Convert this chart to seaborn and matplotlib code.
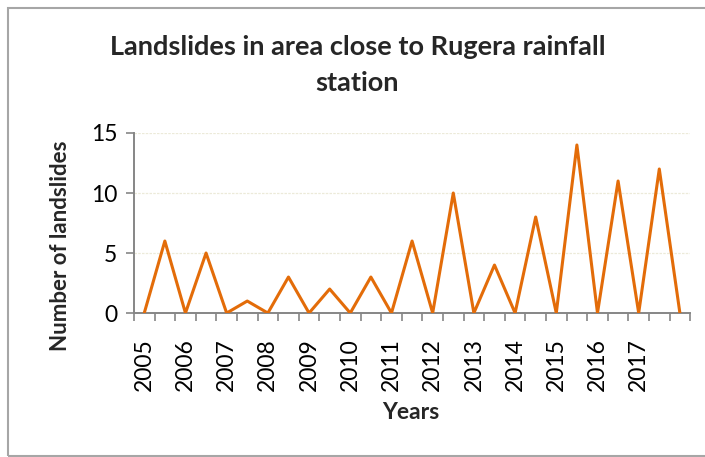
import numpy as np
import pandas as pd
import matplotlib
matplotlib.use("Agg")
import matplotlib.pyplot as plt
import seaborn as sns
from matplotlib.patches import Rectangle

# Half-year categories; only the first half of each year carries a label
categories = ["2005", "", "2006", "", "2007", "", "2008", "", "2009", "",
              "2010", "", "2011", "", "2012", "", "2013", "", "2014", "",
              "2015", "", "2016", "", "2017", "", ""]
landslides = [0, 6, 0, 5, 0, 1, 0, 3, 0, 2, 0, 3, 0, 6, 0, 10,
              0, 4, 0, 8, 0, 14, 0, 11, 0, 12, 0]
y_ticks = [0, 5, 10, 15]

df = pd.DataFrame({"pos": np.arange(len(categories)),
                   "label": categories,
                   "count": landslides})

sns.set_theme(style="white")
plt.rcParams["font.family"] = ["Lato", "DejaVu Sans"]

fig = plt.figure(figsize=(7.05, 4.57), dpi=100)
ax = fig.add_axes([0.190, 0.315, 0.789, 0.394])

sns.lineplot(data=df, x="pos", y="count", ax=ax, color="#E36C09",
             linewidth=2.2, zorder=3)

ax.set_xlim(-0.5, len(categories) - 0.5)
ax.set_ylim(0, 15)

# Category labels centred on points, tick marks on category boundaries
ax.set_xticks(df["pos"])
ax.set_xticklabels(categories, rotation=90, fontsize=16.5, color="black")
ax.set_xticks(np.arange(-0.5, len(categories)), minor=True)
ax.tick_params(axis="x", which="major", length=0, pad=18)
ax.tick_params(axis="x", which="minor", length=6, width=1.2,
               color="#868686", direction="out", bottom=True)

ax.set_yticks(y_ticks)
ax.set_yticklabels([str(v) for v in y_ticks], fontsize=16.5, color="black")
ax.tick_params(axis="y", length=6, width=1.2, color="#868686",
               direction="out", left=True, pad=6)

ax.grid(axis="y", color="#ECEAD9", linestyle=(0, (2, 1)), linewidth=0.9)
ax.set_axisbelow(True)

for side in ("top", "right"):
    ax.spines[side].set_visible(False)
for side in ("left", "bottom"):
    ax.spines[side].set_color("#868686")
    ax.spines[side].set_linewidth(1.4)

ax.set_xlabel("Years", fontsize=16.5, fontweight="bold")
ax.xaxis.set_label_coords(0.498, -0.494)
ax.set_ylabel("Number of landslides", fontsize=16, fontweight="bold")
ax.yaxis.set_label_coords(-0.113, 0.372)

fig.text(0.507, 0.857, "Landslides in area close to Rugera rainfall\nstation",
         ha="center", va="center", fontsize=19.5, fontweight="bold",
         linespacing=1.6)

# Chart area border
fig.patches.append(Rectangle((8 / 705, 1 / 457), 1.2, 448 / 457,
                             transform=fig.transFigure, fill=False,
                             edgecolor="#A6A6A6", linewidth=1.5))

fig.savefig("out.png", dpi=100)
